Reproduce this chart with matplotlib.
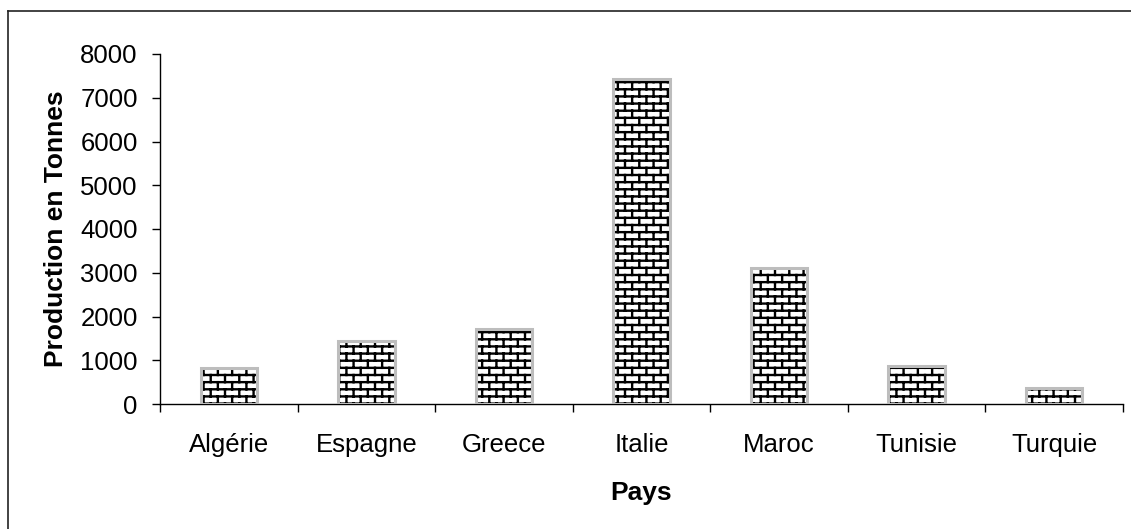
import warnings
import numpy as np
import matplotlib
matplotlib.use('Agg')
import matplotlib.pyplot as plt
from matplotlib import hatch as mhatch
from matplotlib.path import Path
from matplotlib.lines import Line2D

pays = ['Algérie', 'Espagne', 'Greece', 'Italie', 'Maroc', 'Tunisie', 'Turquie']
production = [830, 1450, 1720, 7420, 3120, 870, 370]
yticks = [0, 1000, 2000, 3000, 4000, 5000, 6000, 7000, 8000]


# brick pattern, used with hatch='b'
class BrickHatch(mhatch.HatchPatternBase):
    def __init__(self, hatch, density):
        self.rows = 14 if 'b' in hatch else 0
        self.cols = 7
        self.num_vertices = self.rows * 2 + self.rows * self.cols * 2 + self.cols * 2 if self.rows else 0

    def set_vertices_and_codes(self, vertices, codes):
        r, c = self.rows, self.cols
        segs = []
        for j in range(r):
            y = (j + 0.5) / r
            segs.append(((0, y), (1, y)))
            off = 0.5 * (j % 2)
            for k in range(c):
                x = (k + off + 0.25) / c
                segs.append(((x, max(0, (j - 0.5) / r)), (x, (j + 0.5) / r)))
                if j == 0:
                    segs.append(((x, (r - 0.5) / r), (x, 1)))
        for n, (a, b) in enumerate(segs):
            vertices[2 * n] = a
            vertices[2 * n + 1] = b
            codes[2 * n] = Path.MOVETO
            codes[2 * n + 1] = Path.LINETO


mhatch._hatch_types.append(BrickHatch)
warnings.filterwarnings('ignore')

plt.rcParams['font.family'] = 'Liberation Sans'
plt.rcParams['hatch.linewidth'] = 1.7
plt.rcParams['hatch.color'] = 'black'

fig = plt.figure(figsize=(11.31, 5.29), dpi=100)
ax = fig.add_axes([160 / 1131, 1 - 404 / 529, 963 / 1131, 350 / 529])

x = np.arange(len(pays))
ax.bar(x, production, width=0.41, color='white', edgecolor='black',
       linewidth=0, hatch='b', zorder=2)
ax.bar(x, production, width=0.41, fill=False, edgecolor='#bdbdbd',
       linewidth=2.2, zorder=3)

ax.set_xlim(-0.5, len(pays) - 0.5)
ax.set_ylim(0, 8000)
ax.set_yticks(yticks)
ax.set_xticks(np.arange(-0.5, len(pays)), labels=[])
ax.set_xticks(x, labels=pays, minor=True)

ax.tick_params(axis='x', which='major', length=6, width=1, direction='out')
ax.tick_params(axis='x', which='minor', length=0, pad=21, labelsize=18.5)
ax.tick_params(axis='y', length=6, width=1, pad=10, labelsize=18.5)

for s in ['top', 'right']:
    ax.spines[s].set_visible(False)
for s in ['left', 'bottom']:
    ax.spines[s].set_linewidth(1)

ax.set_ylabel('Production en Tonnes', fontsize=19, fontweight='bold', va='center')
ax.yaxis.set_label_coords(-0.108, 0.5)
ax.set_xlabel('Pays', fontsize=19, fontweight='bold', va='center')
ax.xaxis.set_label_coords(0.5, -0.254)

# outer frame (open on right and bottom)
fig.add_artist(Line2D([8 / 1131, 8 / 1131], [0, 1 - 11 / 529], color='#222222',
                      linewidth=1.2, transform=fig.transFigure))
fig.add_artist(Line2D([8 / 1131, 1], [1 - 11 / 529, 1 - 11 / 529], color='#222222',
                      linewidth=1.2, transform=fig.transFigure))

fig.savefig('out.png', dpi=100, facecolor='white')
